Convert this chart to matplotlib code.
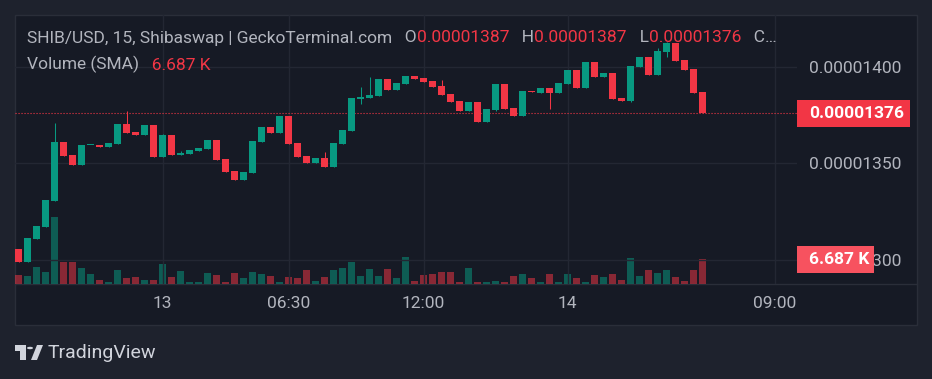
import matplotlib.pyplot as plt
import numpy as np
from matplotlib.patches import Rectangle, Circle, Polygon

# prices in units of 1e-8 USD (1376.0 -> 0.00001376), volume in K
opens = [1305.5, 1298.8, 1310.7, 1316.9, 1330.4, 1361.1, 1354.3, 1349.1, 1359.3, 1359.5,
         1358.5, 1360.0, 1370.4, 1366.3, 1364.7, 1369.9, 1353.3, 1364.7, 1354.3, 1354.8,
         1356.4, 1357.4, 1362.1, 1352.2, 1346.0, 1341.3, 1345.0, 1361.1, 1368.8, 1365.7,
         1374.6, 1360.5, 1353.8, 1350.2, 1352.8, 1348.1, 1360.0, 1366.8, 1383.4, 1383.9,
         1384.9, 1393.8, 1388.1, 1391.2, 1395.3, 1394.3, 1392.7, 1390.1, 1386.0, 1382.3,
         1377.2, 1381.8, 1371.4, 1377.7, 1391.2, 1378.7, 1374.6, 1387.5, 1386.5, 1389.1,
         1386.5, 1391.2, 1398.4, 1389.1, 1402.6, 1394.8, 1396.9, 1383.9, 1382.3, 1400.0,
         1405.2, 1395.8, 1407.8, 1412.5, 1403.6, 1399.0, 1387.0]
highs = [1305.5, 1311.2, 1317.4, 1330.9, 1370.9, 1361.1, 1354.3, 1359.5, 1359.6, 1359.5,
         1360.5, 1370.4, 1377.2, 1366.3, 1369.9, 1369.9, 1365.2, 1364.7, 1356.4, 1356.9,
         1357.9, 1362.1, 1362.1, 1352.2, 1346.0, 1345.5, 1361.6, 1368.8, 1368.8, 1374.6,
         1374.6, 1360.5, 1353.8, 1352.8, 1355.9, 1360.5, 1367.3, 1383.9, 1389.6, 1394.8,
         1393.8, 1393.8, 1391.7, 1395.3, 1395.3, 1394.3, 1392.7, 1393.3, 1386.0, 1382.3,
         1381.8, 1381.8, 1378.2, 1391.2, 1391.2, 1378.7, 1387.5, 1387.5, 1389.1, 1389.1,
         1391.7, 1398.4, 1398.4, 1402.6, 1402.6, 1396.9, 1396.9, 1383.9, 1400.5, 1405.2,
         1405.2, 1409.9, 1413.0, 1412.5, 1403.6, 1399.0, 1387.0]
lows = [1298.8, 1298.8, 1310.7, 1316.9, 1330.4, 1353.8, 1349.1, 1349.1, 1359.3, 1358.5,
        1358.5, 1360.0, 1365.7, 1364.7, 1364.7, 1353.3, 1353.3, 1354.3, 1354.3, 1354.8,
        1356.4, 1357.4, 1351.7, 1345.5, 1341.3, 1341.3, 1345.0, 1361.1, 1365.7, 1365.7,
        1360.0, 1353.3, 1350.2, 1350.2, 1348.1, 1348.1, 1360.0, 1366.8, 1380.8, 1383.9,
        1384.9, 1388.1, 1388.1, 1391.2, 1393.8, 1392.2, 1389.6, 1385.5, 1381.8, 1377.2,
        1377.2, 1371.4, 1371.4, 1377.2, 1378.2, 1374.6, 1374.6, 1387.0, 1386.5, 1378.2,
        1386.5, 1391.2, 1389.1, 1389.1, 1394.8, 1394.8, 1383.4, 1382.3, 1381.8, 1400.0,
        1395.8, 1395.8, 1405.2, 1403.1, 1398.4, 1386.5, 1376.0]
closes = [1298.8, 1311.2, 1317.4, 1330.9, 1361.1, 1353.8, 1349.1, 1359.5, 1359.6, 1358.5,
          1360.5, 1370.4, 1365.7, 1364.7, 1369.9, 1353.3, 1364.7, 1354.3, 1355.3, 1356.9,
          1357.9, 1362.1, 1351.7, 1345.5, 1341.3, 1345.5, 1361.6, 1368.8, 1365.7, 1374.6,
          1360.0, 1353.3, 1350.2, 1352.8, 1348.1, 1360.5, 1367.3, 1383.9, 1384.4, 1385.5,
          1393.8, 1388.1, 1391.7, 1395.3, 1393.8, 1392.2, 1389.6, 1385.5, 1381.8, 1377.2,
          1381.8, 1371.4, 1378.2, 1391.2, 1378.2, 1374.6, 1387.5, 1387.0, 1389.1, 1386.5,
          1391.7, 1398.4, 1389.1, 1402.6, 1394.8, 1396.9, 1383.4, 1382.3, 1400.5, 1405.2,
          1395.8, 1408.3, 1412.5, 1403.1, 1398.4, 1386.5, 1376.0]
volumes = [2.4, 2.1, 4.5, 3.2, 17.9, 5.9, 5.9, 4.3, 2.7, 1.1,
           0.5, 3.7, 1.6, 1.9, 1.1, 1.1, 5.3, 1.9, 3.5, 0.5,
           0.5, 2.9, 2.4, 0.5, 2.9, 1.6, 3.2, 2.7, 2.1, 0.5,
           1.9, 1.6, 3.7, 0.8, 1.9, 3.7, 4.3, 5.9, 2.1, 4.0,
           2.1, 4.0, 1.6, 7.2, 0.8, 2.4, 2.7, 3.2, 3.2, 0.5,
           4.3, 0.5, 0.5, 0.8, 0.5, 2.1, 2.7, 1.6, 0.5, 2.7,
           0.5, 2.7, 1.6, 0.5, 2.4, 1.9, 2.7, 1.1, 7.0, 2.1,
           3.7, 2.9, 3.7, 1.9, 0.8, 3.7, 6.687]

time_pos = [16, 30, 45, 61, 84]
time_labels = ["13", "06:30", "12:00", "14", "09:00"]
price_ticks = [1300, 1350, 1400]
last_price = 1376.0

W, H = 932, 379
UP, DOWN = "#089981", "#f23645"
GRAY = "#b2b5be"
FONT = "Roboto"
FS = 12.5

def fx(x):
    return x / W

def fy(y):
    return 1 - y / H

fig = plt.figure(figsize=(W / 100, H / 100), dpi=100, facecolor="#1e222d")
fig.add_artist(Rectangle((fx(15), fy(325)), fx(902), 310 / H, transform=fig.transFigure,
                         facecolor="#161a25", edgecolor="#2a2e39", lw=1, zorder=-2))
fig.add_artist(plt.Line2D([fx(15), fx(917)], [fy(284), fy(284)], transform=fig.transFigure,
                          color="#2a2e39", lw=1, zorder=-1))

# volume pane underneath, price pane on top
ax_vol = fig.add_axes([fx(15), fy(284), fx(782), 269 / H])
ax = ax_vol.twinx()
ax_vol.patch.set_visible(False)
ax.patch.set_visible(False)
ax.set_zorder(ax_vol.get_zorder() + 1)

idx = np.arange(len(opens))
o = np.array(opens)
c = np.array(closes)
colors = [UP if cc >= oo else DOWN for oo, cc in zip(o, c)]

ax_vol.bar(idx, volumes, width=0.78, color=colors, alpha=0.52, lw=0)
ax_vol.set_ylim(0, 6.687 * 269 / 25)
ax_vol.set_yticks([])

ax.vlines(idx, lows, highs, colors=colors, lw=0.75, zorder=2)
ax.bar(idx, np.maximum(np.abs(c - o), 0.6), bottom=np.minimum(o, c), width=0.78,
       color=colors, lw=0, zorder=3)
ax.axhline(last_price, color=DOWN, lw=0.8, ls=(0, (1, 1.7)), zorder=1)

ax.set_xlim(-0.39, 86.5)
ax.set_ylim(1287.3, 1427.0)

for a in (ax, ax_vol):
    for s in a.spines.values():
        s.set_visible(False)

ax.set_yticks(price_ticks)
ax.set_yticklabels([f"{p * 1e-8:.8f}" for p in price_ticks])
ax.tick_params(axis="y", length=0, pad=8.6, labelcolor=GRAY, labelsize=FS)
for t in ax.get_yticklabels():
    t.set_fontfamily(FONT)
ax.grid(axis="y", color="#232733", lw=1)
ax.set_axisbelow(True)

ax_vol.set_xticks(time_pos)
ax_vol.set_xticklabels(time_labels)
ax_vol.tick_params(axis="x", length=0, pad=8.5, labelcolor=GRAY, labelsize=FS)
for t in ax_vol.get_xticklabels():
    t.set_fontfamily(FONT)
ax_vol.grid(axis="x", color="#232733", lw=1)

# header lines
def colored_line(x, y, parts, size=FS):
    t = fig.text(fx(x), fy(y), parts[0][0], color=parts[0][1], fontsize=size,
                 family=FONT, va="center", ha="left", zorder=5)
    for s, col in parts[1:]:
        t = ax.annotate(s, xy=(1, 0), xycoords=t, va="bottom", ha="left", color=col,
                        fontsize=size, family=FONT, annotation_clip=False, zorder=5)

colored_line(27, 38, [("SHIB/USD, 15, Shibaswap | GeckoTerminal.com", GRAY),
                      ("   O", GRAY), ("0.00001387", DOWN),
                      ("   H", GRAY), ("0.00001387", DOWN),
                      ("   L", GRAY), ("0.00001376", DOWN),
                      ("   C…", GRAY)])
colored_line(27, 64, [("Volume (SMA)", GRAY), ("   6.687 K", DOWN)])

# price and volume labels on the scale
fig.add_artist(Rectangle((fx(797), fy(127)), fx(113), 27 / H, transform=fig.transFigure,
                         facecolor=DOWN, lw=0, zorder=4))
fig.text(fx(809), fy(113.5), f"{last_price * 1e-8:.8f}", color="white", fontsize=FS,
         family=FONT, fontweight="bold", va="center", ha="left", zorder=5)
fig.add_artist(Rectangle((fx(797), fy(273)), fx(77), 27 / H, transform=fig.transFigure,
                         facecolor="#f7525f", lw=0, zorder=4))
fig.text(fx(809), fy(259.5), "6.687 K", color="white", fontsize=FS,
         family=FONT, fontweight="bold", va="center", ha="left", zorder=5)

# TradingView logo
logo = "#d1d4dc"
fig.add_artist(Rectangle((fx(15), fy(351)), fx(11), 6 / H, transform=fig.transFigure,
                         facecolor=logo, lw=0))
fig.add_artist(Rectangle((fx(20), fy(360)), fx(6), 15 / H, transform=fig.transFigure,
                         facecolor=logo, lw=0))
fig.add_artist(Circle((fx(30), fy(348)), fx(3), transform=fig.transFigure,
                      facecolor=logo, lw=0))
fig.add_artist(Polygon([(fx(31), fy(360)), (fx(37), fy(360)), (fx(43), fy(345)),
                        (fx(37), fy(345))], transform=fig.transFigure,
                       facecolor=logo, lw=0))
fig.text(fx(48), fy(353), "TradingView", color=logo, fontsize=14, family=FONT,
         va="center", ha="left")

fig.savefig("out.png", dpi=100, facecolor=fig.get_facecolor())
